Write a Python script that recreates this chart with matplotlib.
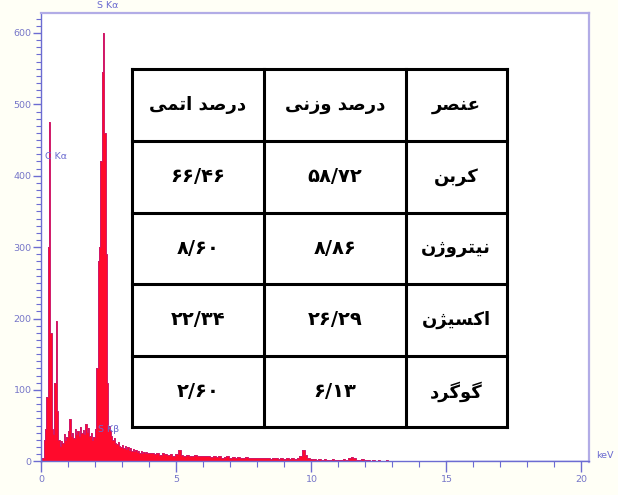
import numpy as np
import matplotlib
matplotlib.use("Agg")
import matplotlib.pyplot as plt
from matplotlib.ticker import MultipleLocator

# ===== spectrum counts =====
# 0 - 4 keV, 0.05 keV channels
LOW_STEP = 0.05
counts_low = [
    0, 5, 30, 45, 90, 300, 475, 180, 45, 38,
    110, 196, 70, 30, 22, 28, 25, 38, 30, 34,
    42, 59, 36, 40, 33, 45, 38, 42, 35, 48,
    40, 44, 38, 52, 41, 46, 36, 40, 30, 34,
    45, 130, 280, 300, 420, 545, 600, 460, 290, 110,
    50, 42, 35, 30, 32, 26, 24, 27, 22, 20,
    23, 19, 21, 17, 20, 16, 18, 15, 17, 14,
    16, 13, 15, 12, 14, 12, 13, 11, 13, 11,
    12,
]
# 4.1 - 15 keV, 0.1 keV channels
HIGH_STEP = 0.1
counts_high = [
    12, 10, 11, 9, 11, 10, 9, 10, 8, 10,
    16, 9, 8, 9, 7, 8, 9, 7, 8, 7,
    7, 8, 6, 7, 6, 7, 5, 6, 7, 5,
    6, 5, 6, 5, 4, 6, 5, 4, 5, 4,
    5, 4, 4, 5, 3, 4, 4, 3, 4, 3,
    4, 3, 4, 3, 4, 8, 16, 9, 4, 3,
    3, 2, 3, 2, 3, 2, 2, 3, 2, 2,
    2, 3, 2, 4, 6, 4, 2, 2, 3, 2,
    2, 1, 2, 1, 2, 1, 1, 2, 1, 1,
    1, 1, 1, 1, 0, 1, 0, 1, 0, 0,
    0, 0, 0, 0, 0, 0, 0, 0, 0, 0,
]

# peak labels: (text, keV, counts)
peak_labels = [("S Kα", 2.45, 638), ("C Kα", 0.55, 427), ("S Kβ", 2.5, 45)]

# ===== composition table =====
col_headers = ["عنصر", "درصد وزنی", "درصد اتمی"]
elements = ["کربن", "نیتروژن", "اکسیژن", "گوگرد"]
weight_pct = ["۵۸/۷۲", "۸/۸۶", "۲۶/۲۹", "۶/۱۳"]
atomic_pct = ["۶۶/۴۶", "۸/۶۰", "۲۲/۳۴", "۲/۶۰"]

# ===== minimal Persian shaping (matplotlib has no RTL / joining) =====
# letter: (isolated, final, initial, medial); None -> joins on the right only
FORMS = {
    "ا": ("\uFE8D", "\uFE8E", None, None),
    "ب": ("\uFE8F", "\uFE90", "\uFE91", "\uFE92"),
    "ت": ("\uFE95", "\uFE96", "\uFE97", "\uFE98"),
    "د": ("\uFEA9", "\uFEAA", None, None),
    "ر": ("\uFEAD", "\uFEAE", None, None),
    "ز": ("\uFEAF", "\uFEB0", None, None),
    "ژ": ("\uFB8A", "\uFB8B", None, None),
    "س": ("\uFEB1", "\uFEB2", "\uFEB3", "\uFEB4"),
    "ص": ("\uFEB9", "\uFEBA", "\uFEBB", "\uFEBC"),
    "ع": ("\uFEC9", "\uFECA", "\uFECB", "\uFECC"),
    "م": ("\uFEE1", "\uFEE2", "\uFEE3", "\uFEE4"),
    "ن": ("\uFEE5", "\uFEE6", "\uFEE7", "\uFEE8"),
    "و": ("\uFEED", "\uFEEE", None, None),
    "ی": ("\uFBFC", "\uFBFD", "\uFBFE", "\uFBFF"),
    "ک": ("\uFB8E", "\uFB8F", "\uFB90", "\uFB91"),
    "گ": ("\uFB92", "\uFB93", "\uFB94", "\uFB95"),
}


def shape_fa(text):
    if not any(c in FORMS for c in text):
        return text
    out = []
    for i, c in enumerate(text):
        if c not in FORMS:
            out.append(c)
            continue
        prev = text[i - 1] if i > 0 else ""
        nxt = text[i + 1] if i + 1 < len(text) else ""
        join_prev = prev in FORMS and FORMS[prev][2] is not None
        join_next = FORMS[c][2] is not None and nxt in FORMS
        iso, fin, ini, med = FORMS[c]
        if join_prev and join_next:
            out.append(med)
        elif join_prev:
            out.append(fin)
        elif join_next:
            out.append(ini)
        else:
            out.append(iso)
    return "".join(reversed(out))


AXIS_COL = "#6c6cd2"
FRAME_COL = "#b2ace6"

fig = plt.figure(figsize=(6.18, 4.95), dpi=100)
fig.patch.set_facecolor("#fffff6")

ax = fig.add_axes([41.5 / 618, 33 / 495, (589 - 41.5) / 618, (462 - 13) / 495])
ax.set_facecolor("white")

e_low = np.arange(len(counts_low)) * LOW_STEP
e_high = e_low[-1] + (np.arange(len(counts_high)) + 1) * HIGH_STEP
energy = np.concatenate([e_low, e_high])
counts = np.array(counts_low + counts_high, dtype=float)

ax.fill_between(energy, counts, step="mid", color="#ff0a2c", lw=0)
ax.step(energy, counts, where="mid", color="#d01868", lw=0.7)
# flat baseline beyond the recorded channels
ax.plot([energy[-1], 20.28], [0, 0], color=AXIS_COL, lw=1)

ax.set_xlim(0, 20.28)
ax.set_ylim(-1, 628)

for side in ("top", "right"):
    ax.spines[side].set_color(FRAME_COL)
    ax.spines[side].set_linewidth(1.6)
for side in ("left", "bottom"):
    ax.spines[side].set_color(AXIS_COL)
    ax.spines[side].set_linewidth(1.0)
ax.spines["bottom"].set_position(("data", 0))

ax.xaxis.set_major_locator(MultipleLocator(5))
ax.xaxis.set_minor_locator(MultipleLocator(1))
ax.yaxis.set_major_locator(MultipleLocator(100))
ax.yaxis.set_minor_locator(MultipleLocator(10))
ax.tick_params(axis="both", which="both", colors=AXIS_COL, labelcolor="#7676c8",
               labelsize=6.8, direction="out")
ax.tick_params(axis="x", which="major", length=8, width=1, pad=2)
ax.tick_params(axis="x", which="minor", length=4, width=0.8)
ax.tick_params(axis="y", which="major", length=6, width=1, pad=1)
ax.tick_params(axis="y", which="minor", length=3.5, width=0.8)

for txt, ex, cy in peak_labels:
    ax.text(ex, cy, txt, color="#6a6ad0", fontsize=6.8, ha="center", va="center",
            clip_on=False)

ax.text(20.55, 8, "keV", color="#6a6ad0", fontsize=6.8, ha="left", va="center",
        clip_on=False)

# ===== table overlay, in pixel space =====
tab = fig.add_axes([0, 0, 1, 1], facecolor="none")
tab.set_xlim(0, 618)
tab.set_ylim(495, 0)
tab.axis("off")

col_edges = [131.5, 264, 406, 506.5]   # left -> right
row_edges = [69, 140.5, 212.5, 283.5, 356, 427]
tab.add_patch(plt.Rectangle((col_edges[0], row_edges[0]),
                            col_edges[-1] - col_edges[0], row_edges[-1] - row_edges[0],
                            facecolor="white", edgecolor="none"))
for xe in col_edges:
    tab.plot([xe, xe], [row_edges[0], row_edges[-1]], color="black", lw=2.2,
             solid_capstyle="projecting")
for ye in row_edges:
    tab.plot([col_edges[0], col_edges[-1]], [ye, ye], color="black", lw=2.2,
             solid_capstyle="projecting")

# columns run right -> left: element, weight %, atomic %
columns = [
    [col_headers[2]] + atomic_pct,
    [col_headers[1]] + weight_pct,
    [col_headers[0]] + elements,
]
for ci, col in enumerate(columns):
    cx = (col_edges[ci] + col_edges[ci + 1]) / 2
    for ri, cell in enumerate(col):
        cy = (row_edges[ri] + row_edges[ri + 1]) / 2
        is_num = ri > 0 and ci < 2
        tab.text(cx, cy, shape_fa(cell), ha="center", va="center",
                 fontsize=14 if is_num else 13, fontweight="bold",
                 family=["DejaVu Sans"])

fig.savefig("out.png", dpi=100, facecolor=fig.get_facecolor())
